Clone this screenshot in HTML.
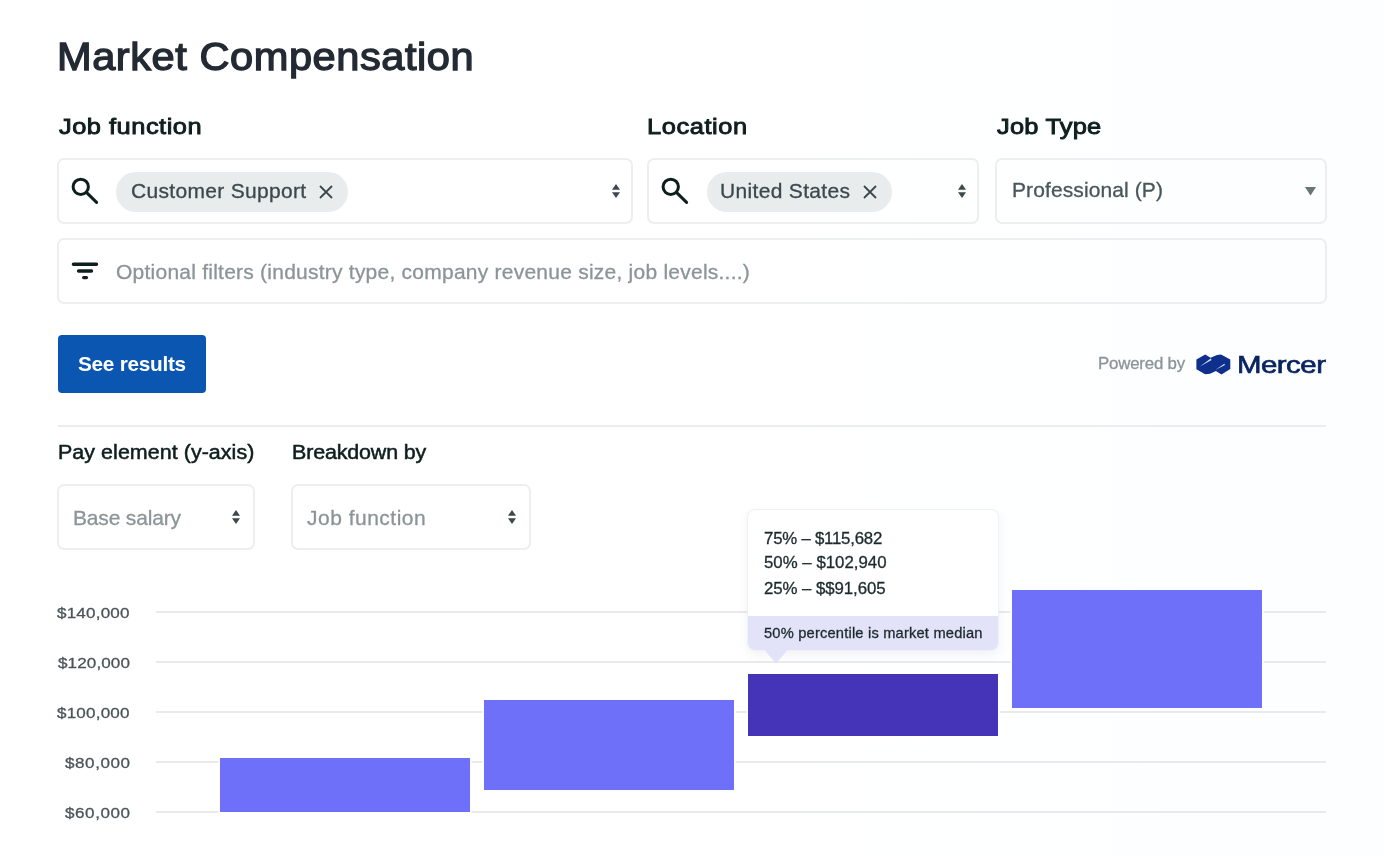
<!DOCTYPE html>
<html lang="en">
<head>
<meta charset="utf-8">
<title>Market Compensation</title>
<style>
*{box-sizing:border-box;margin:0;padding:0}
html,body{width:1384px;height:856px;overflow:hidden}
body{position:relative;font-family:"Liberation Sans",sans-serif;background:linear-gradient(90deg,#ffffff 0%,#ffffff 55%,#fcfeff 100%);color:#1f2a33}
.abs{position:absolute;white-space:nowrap}
.t{position:absolute;white-space:nowrap;line-height:1;display:inline-block;transform-origin:0 0;transform:scaleX(1.02)}
.box{position:absolute;border:2px solid #edeeee;border-radius:7px}
.chip{position:absolute;background:#e8ecec;border-radius:20px;height:40px}
.lbl{color:#0f1f1c;-webkit-text-stroke:0.9px #0f1f1c;transform:scaleX(1.13)}
.grid{position:absolute;left:156px;width:1170px;height:2px;background:#e8eaec}
.yl{position:absolute;width:130px;left:0;text-align:right;font-size:16px;color:#4a5457;line-height:1}
.bar{position:absolute;background:#6e70fa;box-shadow:0 0 0 1.5px #fff}
#c1,#c2,#prof,#opt,#pow,#s1,#s2,#tt1,#tt2,#tt3,#y1,#y2,#y3,#y4,#y5{-webkit-text-stroke-width:0.3px}
#tt4{-webkit-text-stroke-width:0.3px}
</style>
</head>
<body>

<div class="t" id="title" style="transform:scaleX(1.08);left:57px;top:37.5px;font-size:38.5px;color:#232a33;-webkit-text-stroke:1.3px #232a33;letter-spacing:0.51px">Market Compensation</div>

<div class="t lbl" id="l1" style="left:59px;top:116px;font-size:22.5px;letter-spacing:0.44px">Job function</div>
<div class="t lbl" id="l2" style="left:647px;top:116px;font-size:22.5px;letter-spacing:0.51px">Location</div>
<div class="t lbl" id="l3" style="left:997px;top:116px;font-size:22.5px;letter-spacing:0.19px">Job Type</div>

<!-- row 1 -->
<div class="box" style="left:57px;top:158px;width:576px;height:66px"></div>
<div class="box" style="left:647px;top:158px;width:332px;height:66px"></div>
<div class="box" style="left:995px;top:158px;width:332px;height:66px"></div>
<!-- row 2 -->
<div class="box" style="left:57px;top:238px;width:1270px;height:66px"></div>

<svg class="abs" style="left:60px;top:170px" width="44" height="40" viewBox="0 0 44 40"><circle cx="20.750" cy="16.800" r="7.650" fill="none" stroke="#0c1f1c" stroke-width="3"/><path d="M26.400 22.400L36.600 32.400" stroke="#0c1f1c" stroke-width="3" stroke-linecap="round" fill="none"/></svg>
<svg class="abs" style="left:650px;top:170px" width="44" height="40" viewBox="0 0 44 40"><circle cx="20.750" cy="16.800" r="7.650" fill="none" stroke="#0c1f1c" stroke-width="3"/><path d="M26.400 22.400L36.600 32.400" stroke="#0c1f1c" stroke-width="3" stroke-linecap="round" fill="none"/></svg>

<div class="chip" style="left:116px;top:171.500px;width:232px"></div>
<div class="t" id="c1" style="left:130.6px;top:180.8px;font-size:20.6px;color:#3b494c;letter-spacing:0.31px">Customer Support</div>
<svg class="abs" style="left:319px;top:185px" width="14" height="14" viewBox="0 0 14 14"><path d="M1 1L13 13M13 1L1 13" stroke="#3b494c" stroke-width="1.800" fill="none"/></svg>

<div class="chip" style="left:706.500px;top:171.500px;width:185px"></div>
<div class="t" id="c2" style="left:720px;top:180.8px;font-size:20.6px;color:#3b494c;letter-spacing:0.32px">United States</div>
<svg class="abs" style="left:863px;top:185px" width="14" height="14" viewBox="0 0 14 14"><path d="M1 1L13 13M13 1L1 13" stroke="#3b494c" stroke-width="1.800" fill="none"/></svg>

<svg class="abs" style="left:612px;top:183.800px" width="8" height="14" viewBox="0 0 8 14"><path d="M4 0L8 5.700H0zM4 14L8 8.300H0z" fill="#3b494c"/></svg>
<svg class="abs" style="left:958px;top:183.800px" width="8" height="14" viewBox="0 0 8 14"><path d="M4 0L8 5.700H0zM4 14L8 8.300H0z" fill="#3b494c"/></svg>

<div class="t" id="prof" style="left:1012px;top:180px;font-size:20.6px;color:#48565a;letter-spacing:0.1px">Professional (P)</div>
<svg class="abs" style="left:1305px;top:187px" width="11" height="9" viewBox="0 0 11 9"><path d="M0 0H11L5.500 8.600z" fill="#697477"/></svg>

<svg class="abs" style="left:60px;top:250px" width="44" height="40" viewBox="0 0 44 40"><path d="M13.350 14.250H36.550M18.550 21H31.550M23.650 27.550H26.450" stroke="#0c1f1c" stroke-width="3.300" stroke-linecap="round" fill="none"/></svg>
<div class="t" id="opt" style="left:116px;top:262px;font-size:20.6px;color:#8b9496;letter-spacing:0.23px">Optional filters (industry type, company revenue size, job levels....)</div>

<!-- button -->
<div class="abs" style="left:58px;top:335px;width:148px;height:58px;border-radius:4px;background:#0a56b0"></div>
<div class="t" id="btn" style="left:77.8px;top:354px;font-size:20.4px;color:#fff;font-weight:bold;letter-spacing:-0.28px">See results</div>

<!-- powered by -->
<div class="t" id="pow" style="left:1097.6px;top:355px;font-size:16.5px;color:#8b9496;letter-spacing:-0.19px">Powered by</div>
<svg class="abs" id="mlogo" style="left:1195.800px;top:353.600px" width="35" height="21" viewBox="0 0 35 21"><path fill="#0e2f8c" d="M0.400 5.400L9.200 0.400L14.600 3.800L21 0.900L25 0.400L34.300 5.400V14.900L25.500 20.500L19.900 17L14 19.800L9.200 20.300L0.400 15.300z"/><path fill="#d6e2ff" d="M3.900 12.600L14.700 4.600L15.600 6.100z"/><path fill="#d6e2ff" d="M19.600 15.700L28.300 9.700L29 11z"/></svg>
<div class="t" id="mer" style="transform:scaleX(1.2);left:1237.4px;top:352.5px;font-size:24.5px;color:#0a2363;-webkit-text-stroke:0.65px #0a2363;letter-spacing:-0.42px">Mercer</div>

<div class="abs" style="left:58px;top:425px;width:1268px;height:2px;background:#ebedee"></div>

<div class="t" id="pl1" style="transform:scaleX(1.1);left:58.2px;top:442.6px;font-size:19.5px;color:#0f1f1c;-webkit-text-stroke:0.5px #0f1f1c;letter-spacing:0.04px">Pay element (y-axis)</div>
<div class="t" id="pl2" style="transform:scaleX(1.1);left:292px;top:442.6px;font-size:19.5px;color:#0f1f1c;-webkit-text-stroke:0.5px #0f1f1c;letter-spacing:-0.14px">Breakdown by</div>

<div class="box" style="left:57px;top:484px;width:198px;height:66px"></div>
<div class="box" style="left:291px;top:484px;width:240px;height:66px"></div>
<div class="t" id="s1" style="left:72.5px;top:507.8px;font-size:20.6px;color:#8b9496;letter-spacing:-0.17px">Base salary</div>
<div class="t" id="s2" style="left:307px;top:507.8px;font-size:20.6px;color:#8b9496;letter-spacing:0.48px">Job function</div>
<svg class="abs" style="left:232px;top:510px" width="8" height="14" viewBox="0 0 8 14"><path d="M4 0L8 5.700H0zM4 14L8 8.300H0z" fill="#3b494c"/></svg>
<svg class="abs" style="left:508px;top:510px" width="8" height="14" viewBox="0 0 8 14"><path d="M4 0L8 5.700H0zM4 14L8 8.300H0z" fill="#3b494c"/></svg>

<!-- chart -->
<div class="grid" style="top:611px"></div>
<div class="grid" style="top:661px"></div>
<div class="grid" style="top:711px"></div>
<div class="grid" style="top:761px"></div>
<div class="grid" style="top:811px"></div>
<div class="t" id="y1" style="transform:scaleX(1.1);left:57px;top:605px;font-size:15.5px;color:#4a5457;letter-spacing:0.18px">$140,000</div>
<div class="t" id="y2" style="transform:scaleX(1.1);left:57.5px;top:655px;font-size:15.5px;color:#4a5457;letter-spacing:0.11px">$120,000</div>
<div class="t" id="y3" style="transform:scaleX(1.1);left:57px;top:705px;font-size:15.5px;color:#4a5457;letter-spacing:0.18px">$100,000</div>
<div class="t" id="y4" style="transform:scaleX(1.1);left:64.5px;top:755px;font-size:15.5px;color:#4a5457;letter-spacing:0.51px">$80,000</div>
<div class="t" id="y5" style="transform:scaleX(1.1);left:64.5px;top:805px;font-size:15.5px;color:#4a5457;letter-spacing:0.51px">$60,000</div>

<div class="bar" style="left:220px;top:758px;width:250px;height:54px"></div>
<div class="bar" style="left:484px;top:700px;width:250px;height:90px"></div>
<div class="bar" style="left:748px;top:674px;width:250px;height:62px;background:#4534b8"></div>
<div class="bar" style="left:1012px;top:590px;width:250px;height:118px"></div>

<!-- tooltip -->
<div class="abs" id="tip" style="left:748px;top:510px;width:250px;height:140px;border-radius:7px;background:#fff;box-shadow:0 0 0 1px #f0f1f5,0 4px 12px rgba(60,70,110,.08);overflow:hidden">
  <div class="abs" style="left:0;top:106px;width:250px;height:34px;background:#e2e2f8"></div>
</div>
<svg class="abs" style="left:764px;top:649.500px" width="24" height="14" viewBox="0 0 24 14"><path d="M0.500 0H23.500L12 13.500z" fill="#e2e2f8"/></svg>
<div class="t" id="tt1" style="left:764.2px;top:530px;font-size:16.5px;color:#1c2a2c;letter-spacing:-0.23px">75% – $115,682</div>
<div class="t" id="tt2" style="left:764.2px;top:554px;font-size:16.5px;color:#1c2a2c;letter-spacing:0px">50% – $102,940</div>
<div class="t" id="tt3" style="left:764.2px;top:580px;font-size:16.5px;color:#1c2a2c;letter-spacing:-0.07px">25% – $$91,605</div>
<div class="t" id="tt4" style="left:764px;top:625.8px;font-size:14.4px;color:#1c2a2c;letter-spacing:0.18px">50% percentile is market median</div>

</body>
</html>
